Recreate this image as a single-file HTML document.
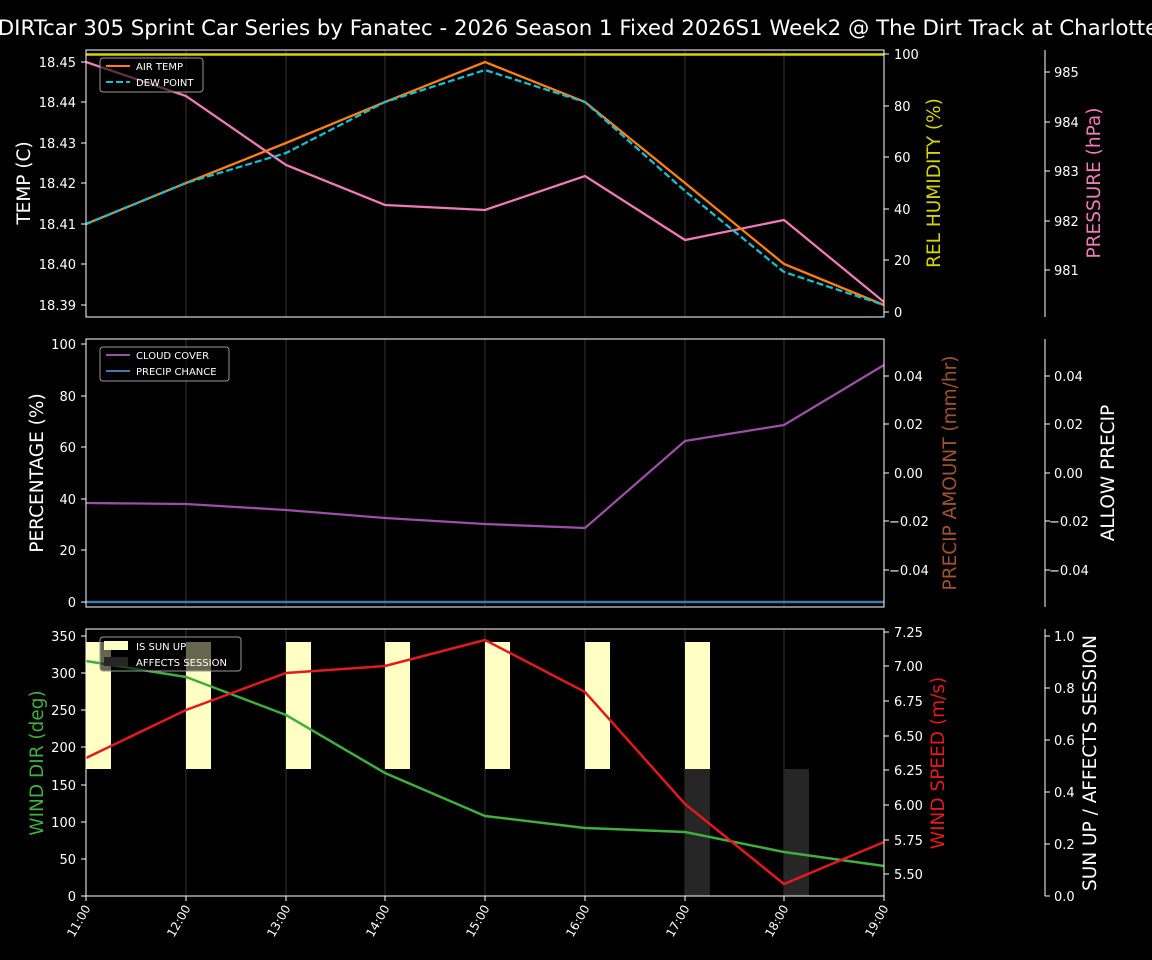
<!DOCTYPE html>
<html><head><meta charset="utf-8"><style>
html,body{margin:0;padding:0;background:#000;}
svg{display:block;font-family:"DejaVu Sans","Liberation Sans",sans-serif;}
</style></head><body>
<svg width="1152" height="960" viewBox="0 0 1152 960" xmlns="http://www.w3.org/2000/svg">
<rect width="1152" height="960" fill="#000"/>
<text x="578" y="35" fill="#fff" font-size="21.3" text-anchor="middle">DIRTcar 305 Sprint Car Series by Fanatec - 2026 Season 1 Fixed 2026S1 Week2 @ The Dirt Track at Charlotte</text>

<!-- grid lines -->
<g stroke="#222" stroke-width="1.5">
<line x1="186" y1="50" x2="186" y2="317"/><line x1="286" y1="50" x2="286" y2="317"/><line x1="385" y1="50" x2="385" y2="317"/><line x1="485" y1="50" x2="485" y2="317"/><line x1="585" y1="50" x2="585" y2="317"/><line x1="685" y1="50" x2="685" y2="317"/><line x1="784" y1="50" x2="784" y2="317"/>
<line x1="186" y1="339" x2="186" y2="607"/><line x1="286" y1="339" x2="286" y2="607"/><line x1="385" y1="339" x2="385" y2="607"/><line x1="485" y1="339" x2="485" y2="607"/><line x1="585" y1="339" x2="585" y2="607"/><line x1="685" y1="339" x2="685" y2="607"/><line x1="784" y1="339" x2="784" y2="607"/>
<line x1="186" y1="629" x2="186" y2="896"/><line x1="286" y1="629" x2="286" y2="896"/><line x1="385" y1="629" x2="385" y2="896"/><line x1="485" y1="629" x2="485" y2="896"/><line x1="585" y1="629" x2="585" y2="896"/><line x1="685" y1="629" x2="685" y2="896"/><line x1="784" y1="629" x2="784" y2="896"/>
</g>

<!-- Panel 1 -->
<line x1="86" y1="54.5" x2="884" y2="54.5" stroke="#d4d400" stroke-width="2.5"/>
<polyline fill="none" stroke="#f07ab8" stroke-width="2.3" points="86,62 186,96 286,165 385,205 485,210 585,176 685,240 784,220 884,302"/>
<polyline fill="none" stroke="#ff7f0e" stroke-width="2.3" points="86,224 186,183 286,143 385,102 485,62 585,102 685,183 784,264 884,305"/>
<polyline fill="none" stroke="#17becf" stroke-width="2.3" stroke-dasharray="7,3" points="86,224 186,183 286,153 385,102 485,70 585,102 685,191 784,272 884,305"/>
<rect x="86" y="50" width="798" height="267" fill="none" stroke="#fff" stroke-width="1"/>
<rect x="100" y="58" width="103" height="34" fill="#000" fill-opacity="0.6" stroke="#999" rx="3"/>
<line x1="106" y1="66" x2="130" y2="66" stroke="#ff7f0e" stroke-width="2"/>
<line x1="106" y1="82" x2="130" y2="82" stroke="#17becf" stroke-width="2" stroke-dasharray="7,3"/>
<text x="136" y="70" fill="#fff" font-size="10">AIR TEMP</text>
<text x="136" y="86" fill="#fff" font-size="10">DEW POINT</text>
<g fill="#fff" font-size="13" text-anchor="end">
<text x="76" y="67">18.45</text><text x="76" y="107">18.44</text><text x="76" y="148">18.43</text><text x="76" y="188">18.42</text><text x="76" y="229">18.41</text><text x="76" y="269">18.40</text><text x="76" y="310">18.39</text>
</g>
<g stroke="#fff"><line x1="81" y1="62" x2="86" y2="62"/><line x1="81" y1="102" x2="86" y2="102"/><line x1="81" y1="143" x2="86" y2="143"/><line x1="81" y1="183" x2="86" y2="183"/><line x1="81" y1="224" x2="86" y2="224"/><line x1="81" y1="264" x2="86" y2="264"/><line x1="81" y1="305" x2="86" y2="305"/>
<line x1="884" y1="54" x2="889" y2="54"/><line x1="884" y1="106" x2="889" y2="106"/><line x1="884" y1="157" x2="889" y2="157"/><line x1="884" y1="209" x2="889" y2="209"/><line x1="884" y1="260" x2="889" y2="260"/><line x1="884" y1="312" x2="889" y2="312"/>
<line x1="1045" y1="50" x2="1045" y2="317"/><line x1="1045" y1="72" x2="1050" y2="72"/><line x1="1045" y1="122" x2="1050" y2="122"/><line x1="1045" y1="171" x2="1050" y2="171"/><line x1="1045" y1="221" x2="1050" y2="221"/><line x1="1045" y1="270" x2="1050" y2="270"/></g>
<g fill="#fff" font-size="13">
<text x="894" y="59">100</text><text x="894" y="111">80</text><text x="894" y="162">60</text><text x="894" y="214">40</text><text x="894" y="265">20</text><text x="894" y="317">0</text>
<text x="1054" y="77">985</text><text x="1054" y="127">984</text><text x="1054" y="176">983</text><text x="1054" y="226">982</text><text x="1054" y="275">981</text>
</g>
<text transform="translate(30,183) rotate(-90)" fill="#fff" font-size="18.5" text-anchor="middle">TEMP (C)</text>
<text transform="translate(940,183) rotate(-90)" fill="#d4d400" font-size="18.5" text-anchor="middle">REL HUMIDITY (%)</text>
<text transform="translate(1100,183) rotate(-90)" fill="#f07ab8" font-size="18.5" text-anchor="middle">PRESSURE (hPa)</text>

<!-- Panel 2 -->
<polyline fill="none" stroke="#3a7ab8" stroke-width="2.5" points="86,602 884,602"/>
<polyline fill="none" stroke="#9b4fa6" stroke-width="2.3" points="86,503 186,504 286,510 385,518 485,524 585,528 685,441 784,425 884,365"/>
<rect x="86" y="339" width="798" height="268" fill="none" stroke="#fff" stroke-width="1"/>
<rect x="100" y="347" width="129" height="34" fill="#000" fill-opacity="0.6" stroke="#999" rx="3"/>
<line x1="106" y1="355" x2="130" y2="355" stroke="#9b4fa6" stroke-width="2"/>
<line x1="106" y1="371" x2="130" y2="371" stroke="#3a7ab8" stroke-width="2"/>
<text x="136" y="359" fill="#fff" font-size="10">CLOUD COVER</text>
<text x="136" y="375" fill="#fff" font-size="10">PRECIP CHANCE</text>
<g stroke="#fff"><line x1="81" y1="344" x2="86" y2="344"/><line x1="81" y1="396" x2="86" y2="396"/><line x1="81" y1="447" x2="86" y2="447"/><line x1="81" y1="499" x2="86" y2="499"/><line x1="81" y1="550" x2="86" y2="550"/><line x1="81" y1="602" x2="86" y2="602"/>
<line x1="884" y1="376" x2="889" y2="376"/><line x1="884" y1="424" x2="889" y2="424"/><line x1="884" y1="473" x2="889" y2="473"/><line x1="884" y1="521" x2="889" y2="521"/><line x1="884" y1="570" x2="889" y2="570"/>
<line x1="1045" y1="339" x2="1045" y2="607"/><line x1="1045" y1="376" x2="1050" y2="376"/><line x1="1045" y1="424" x2="1050" y2="424"/><line x1="1045" y1="473" x2="1050" y2="473"/><line x1="1045" y1="521" x2="1050" y2="521"/><line x1="1045" y1="570" x2="1050" y2="570"/></g>
<g fill="#fff" font-size="13">
<g text-anchor="end"><text x="76" y="349">100</text><text x="76" y="401">80</text><text x="76" y="452">60</text><text x="76" y="504">40</text><text x="76" y="555">20</text><text x="76" y="607">0</text></g>
<text x="894" y="381">0.04</text><text x="894" y="429">0.02</text><text x="894" y="478">0.00</text><text x="889" y="526">−0.02</text><text x="889" y="575">−0.04</text>
<text x="1054" y="381">0.04</text><text x="1054" y="429">0.02</text><text x="1054" y="478">0.00</text><text x="1049" y="526">−0.02</text><text x="1049" y="575">−0.04</text>
</g>
<text transform="translate(43,473) rotate(-90)" fill="#fff" font-size="18.5" text-anchor="middle">PERCENTAGE (%)</text>
<text transform="translate(956,473) rotate(-90)" fill="#a0522d" font-size="18.5" text-anchor="middle">PRECIP AMOUNT (mm/hr)</text>
<text transform="translate(1114,473) rotate(-90)" fill="#fff" font-size="18.5" text-anchor="middle">ALLOW PRECIP</text>

<!-- Panel 3 -->
<g fill="#ffffc4">
<rect x="86" y="642" width="25" height="127"/><rect x="186" y="642" width="25" height="127"/><rect x="286" y="642" width="25" height="127"/><rect x="385" y="642" width="25" height="127"/><rect x="485" y="642" width="25" height="127"/><rect x="585" y="642" width="25" height="127"/><rect x="685" y="642" width="25" height="127"/>
</g>
<g fill="#262626"><rect x="685" y="769" width="25" height="127"/><rect x="784" y="769" width="25" height="127"/></g>
<polyline fill="none" stroke="#3fae3f" stroke-width="2.5" points="86,661 186,677 286,715 385,773 485,816 585,828 685,832 784,852 884,866"/>
<polyline fill="none" stroke="#e31a1c" stroke-width="2.5" points="86,758 186,710 286,673 385,666 485,640 585,692 685,804 784,884 884,842"/>
<rect x="86" y="629" width="798" height="267" fill="none" stroke="#fff" stroke-width="1"/>
<rect x="100" y="637" width="141" height="34" fill="#000" fill-opacity="0.6" stroke="#999" rx="3"/>
<rect x="104" y="641" width="24" height="9" fill="#ffffc4"/>
<rect x="104" y="657" width="24" height="9" fill="#262626"/>
<text x="136" y="650" fill="#fff" font-size="10">IS SUN UP</text>
<text x="136" y="666" fill="#fff" font-size="10">AFFECTS SESSION</text>
<g stroke="#fff"><line x1="81" y1="636" x2="86" y2="636"/><line x1="81" y1="673" x2="86" y2="673"/><line x1="81" y1="710" x2="86" y2="710"/><line x1="81" y1="747" x2="86" y2="747"/><line x1="81" y1="785" x2="86" y2="785"/><line x1="81" y1="822" x2="86" y2="822"/><line x1="81" y1="859" x2="86" y2="859"/><line x1="81" y1="896" x2="86" y2="896"/>
<line x1="884" y1="632" x2="889" y2="632"/><line x1="884" y1="666" x2="889" y2="666"/><line x1="884" y1="701" x2="889" y2="701"/><line x1="884" y1="736" x2="889" y2="736"/><line x1="884" y1="770" x2="889" y2="770"/><line x1="884" y1="805" x2="889" y2="805"/><line x1="884" y1="840" x2="889" y2="840"/><line x1="884" y1="874" x2="889" y2="874"/>
<line x1="1045" y1="629" x2="1045" y2="896"/><line x1="1045" y1="636" x2="1050" y2="636"/><line x1="1045" y1="688" x2="1050" y2="688"/><line x1="1045" y1="740" x2="1050" y2="740"/><line x1="1045" y1="792" x2="1050" y2="792"/><line x1="1045" y1="844" x2="1050" y2="844"/><line x1="1045" y1="896" x2="1050" y2="896"/>
<line x1="86" y1="896" x2="86" y2="901"/><line x1="186" y1="896" x2="186" y2="901"/><line x1="286" y1="896" x2="286" y2="901"/><line x1="385" y1="896" x2="385" y2="901"/><line x1="485" y1="896" x2="485" y2="901"/><line x1="585" y1="896" x2="585" y2="901"/><line x1="685" y1="896" x2="685" y2="901"/><line x1="784" y1="896" x2="784" y2="901"/><line x1="884" y1="896" x2="884" y2="901"/></g>
<g fill="#fff" font-size="13">
<g text-anchor="end"><text x="76" y="641">350</text><text x="76" y="678">300</text><text x="76" y="715">250</text><text x="76" y="752">200</text><text x="76" y="790">150</text><text x="76" y="827">100</text><text x="76" y="864">50</text><text x="76" y="901">0</text></g>
<text x="894" y="637">7.25</text><text x="894" y="671">7.00</text><text x="894" y="706">6.75</text><text x="894" y="741">6.50</text><text x="894" y="775">6.25</text><text x="894" y="810">6.00</text><text x="894" y="845">5.75</text><text x="894" y="879">5.50</text>
<text x="1054" y="641">1.0</text><text x="1054" y="693">0.8</text><text x="1054" y="745">0.6</text><text x="1054" y="797">0.4</text><text x="1054" y="849">0.2</text><text x="1054" y="901">0.0</text>
</g>
<g fill="#fff" font-size="12" text-anchor="end">
<text transform="translate(91,908) rotate(-60)">11:00</text><text transform="translate(191,908) rotate(-60)">12:00</text><text transform="translate(291,908) rotate(-60)">13:00</text><text transform="translate(390,908) rotate(-60)">14:00</text><text transform="translate(490,908) rotate(-60)">15:00</text><text transform="translate(590,908) rotate(-60)">16:00</text><text transform="translate(690,908) rotate(-60)">17:00</text><text transform="translate(789,908) rotate(-60)">18:00</text><text transform="translate(889,908) rotate(-60)">19:00</text>
</g>
<text transform="translate(43,763) rotate(-90)" fill="#3fae3f" font-size="18.5" text-anchor="middle">WIND DIR (deg)</text>
<text transform="translate(944,763) rotate(-90)" fill="#e31a1c" font-size="18.5" text-anchor="middle">WIND SPEED (m/s)</text>
<text transform="translate(1096,763) rotate(-90)" fill="#fff" font-size="18.5" text-anchor="middle">SUN UP / AFFECTS SESSION</text>
</svg>
</body></html>
